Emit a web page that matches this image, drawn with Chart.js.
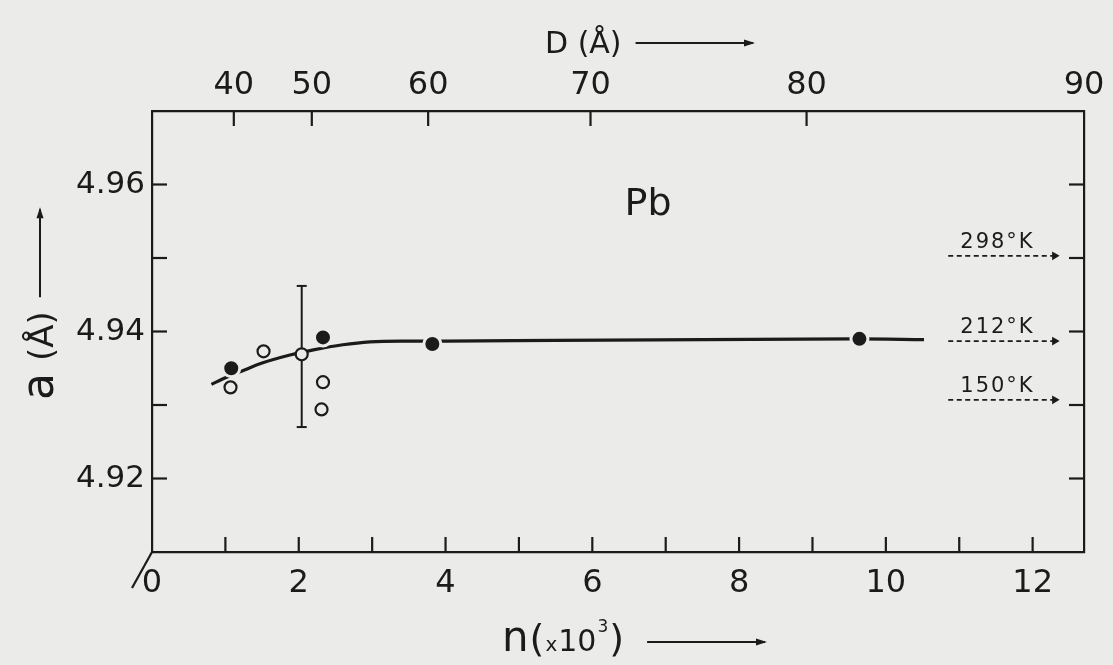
<!DOCTYPE html>
<html><head><meta charset="utf-8">
<script src="https://cdn.jsdelivr.net/npm/chart.js@4.4.1/dist/chart.umd.min.js"></script>
<style>html,body{margin:0;padding:0;background:#ebebe9;}canvas{display:block;}</style>
</head><body>
<canvas id="c" width="1113" height="665"></canvas>
<script>
// ---- data ----
const N_FILLED = [1.08, 2.33, 3.82, 9.64];          // n (x10^3), filled circles
const A_FILLED = [4.9350, 4.9392, 4.9383, 4.9390];  // a (Å)
const N_OPEN = [1.07, 1.52, 2.04, 2.33, 2.31];      // open circles
const A_OPEN = [4.9324, 4.9373, 4.9369, 4.9331, 4.9294];
const ERR_N = [2.04];
const ERR_LOW = [4.9270];
const ERR_HIGH = [4.9462];
const CURVE_N = [0.81, 1.0, 1.22, 1.5, 1.88, 2.2, 2.6, 2.97, 3.4, 4.0, 5.5, 7.5, 9.6, 10.52];
const CURVE_A = [4.9328, 4.9337, 4.9346, 4.9357, 4.9368, 4.9375, 4.9382, 4.9386, 4.9387, 4.9387, 4.9388, 4.9389, 4.9390, 4.9389];
const TEMP_LABELS = ['298°K', '212°K', '150°K'];
const TEMP_A = [4.9503, 4.9387, 4.9307];
const TEMP_N_START = 10.85, TEMP_N_END = 12.3;
const X_TICKS = [0,1,2,3,4,5,6,7,8,9,10,11,12];
const D_TICKS = [40, 50, 60, 70, 80, 90];           // top axis D (Å)
const D_TO_N = 12.7 / Math.pow(90, 3);              // n ∝ D^3
const Y_TICKS = [4.91, 4.92, 4.93, 4.94, 4.95, 4.96, 4.97];
const Y_LABELS = ['4.92', '4.94', '4.96'];
const ELEMENT = 'Pb';
const ELEMENT_AT = {n: 6.76, a: 4.9572};

const PAPER = '#ebebe9', INK = '#1b1b1b';
const FONT = "'DejaVu Sans', sans-serif";

function arrowLine(ctx, x1, y1, x2, y2, lw) {
  ctx.save();
  ctx.strokeStyle = INK; ctx.fillStyle = INK; ctx.lineWidth = lw || 2;
  ctx.beginPath(); ctx.moveTo(x1, y1); ctx.lineTo(x2, y2); ctx.stroke();
  const ang = Math.atan2(y2 - y1, x2 - x1);
  ctx.translate(x2, y2); ctx.rotate(ang);
  ctx.beginPath(); ctx.moveTo(2, 0); ctx.lineTo(-9, -3.5); ctx.lineTo(-9, 3.5); ctx.closePath(); ctx.fill();
  ctx.restore();
}

const decor = {
  id: 'decor',
  beforeDraw(chart) {
    const ctx = chart.ctx;
    ctx.save(); ctx.fillStyle = PAPER; ctx.fillRect(0, 0, chart.width, chart.height); ctx.restore();
  },
  afterDatasetsDraw(chart) {
    const ctx = chart.ctx, a = chart.chartArea, S = chart.scales;
    ctx.save();
    ctx.strokeStyle = INK; ctx.lineWidth = 2.2;
    const TL = 15;
    const near = (p, q) => Math.abs(p - q) < 2;
    // inward ticks
    S.x.ticks.forEach(t => { const p = S.x.getPixelForValue(t.value); if (near(p, a.left) || near(p, a.right)) return;
      ctx.beginPath(); ctx.moveTo(p, a.bottom); ctx.lineTo(p, a.bottom - TL); ctx.stroke(); });
    S.xTop.ticks.forEach(t => { const p = S.xTop.getPixelForValue(t.value); if (near(p, a.left) || near(p, a.right)) return;
      ctx.beginPath(); ctx.moveTo(p, a.top); ctx.lineTo(p, a.top + TL); ctx.stroke(); });
    S.y.ticks.forEach(t => { const p = S.y.getPixelForValue(t.value); if (near(p, a.top) || near(p, a.bottom)) return;
      ctx.beginPath(); ctx.moveTo(a.left, p); ctx.lineTo(a.left + TL, p); ctx.stroke(); });
    S.yRight.ticks.forEach(t => { const p = S.yRight.getPixelForValue(t.value); if (near(p, a.top) || near(p, a.bottom)) return;
      ctx.beginPath(); ctx.moveTo(a.right, p); ctx.lineTo(a.right - TL, p); ctx.stroke(); });
    // corner slash
    ctx.beginPath(); ctx.moveTo(a.left, a.bottom); ctx.lineTo(a.left - 20, a.bottom + 36); ctx.stroke();

    ctx.fillStyle = INK;
    // element label
    ctx.font = `38px ${FONT}`; ctx.textAlign = 'center'; ctx.textBaseline = 'middle';
    ctx.fillText(ELEMENT, S.x.getPixelForValue(ELEMENT_AT.n), S.y.getPixelForValue(ELEMENT_AT.a));
    // temperature labels
    ctx.font = `21px ${FONT}`; ctx.textBaseline = 'alphabetic';
    ctx.letterSpacing = '2px';
    TEMP_LABELS.forEach((lab, i) => {
      const xm = (S.x.getPixelForValue(TEMP_N_START) + S.x.getPixelForValue(TEMP_N_END)) / 2 - 4;
      ctx.fillText(lab, xm, S.y.getPixelForValue(TEMP_A[i]) - 8);
    });
    ctx.letterSpacing = '0px';

    // bottom title  n (x10³) →
    ctx.textAlign = 'left';
    let x = 502; const base = 651;
    const parts = [['n', 42, 0], ['(', 38, 0], ['x', 20, 0], ['10', 30, 0], ['3', 17, -19], [')', 38, 0]];
    parts.forEach(([t, size, dy]) => { ctx.font = `${size}px ${FONT}`; ctx.fillText(t, x, base + dy); x += ctx.measureText(t).width + 1; });
    arrowLine(ctx, x + 22, 642, 765, 642, 2);

    // top title  D (Å) →
    ctx.font = `30px ${FONT}`; ctx.textAlign = 'left';
    ctx.fillText('D (Å)', 545, 53);
    const w = ctx.measureText('D (Å)').width;
    arrowLine(ctx, 545 + w + 14, 43, 753, 43, 2);

    // left title  a (Å) →  (rotated)
    ctx.save();
    ctx.translate(53, 400); ctx.rotate(-Math.PI / 2);
    ctx.font = `44px ${FONT}`; ctx.fillText('a', 0, 0);
    let lx = ctx.measureText('a').width + 12;
    ctx.font = `34px ${FONT}`; ctx.fillText('(Å)', lx, 0);
    lx += ctx.measureText('(Å)').width + 14;
    arrowLine(ctx, lx, -13, lx + 88, -13, 2);
    ctx.restore();
    ctx.restore();
  }
};

const tickFont = (s) => ({family: FONT, size: s});
const noGrid = {display: false, drawTicks: false};
const border = {display: true, color: INK, width: 2.2};

new Chart(document.getElementById('c'), {
  data: {
    datasets: [
      { type: 'scatter', label: 'filled', data: N_FILLED.map((n, i) => ({x: n, y: A_FILLED[i]})),
        pointRadius: 8.5, pointBackgroundColor: INK, pointBorderColor: PAPER, pointBorderWidth: 3 },
      { type: 'scatter', label: 'open', data: N_OPEN.map((n, i) => ({x: n, y: A_OPEN[i]})),
        pointRadius: 6, pointBackgroundColor: PAPER, pointBorderColor: INK, pointBorderWidth: 2.2 },
      { type: 'line', label: 'error', data: [{x: ERR_N[0], y: ERR_LOW[0]}, {x: ERR_N[0], y: ERR_HIGH[0]}],
        borderColor: INK, borderWidth: 2, pointStyle: 'line', pointRadius: 5, pointBorderWidth: 2,
        pointBorderColor: INK, fill: false },
      { type: 'line', label: 'curve', data: CURVE_N.map((n, i) => ({x: n, y: CURVE_A[i]})),
        borderColor: INK, borderWidth: 3.2, pointRadius: 0, cubicInterpolationMode: 'monotone', fill: false },
      ...TEMP_A.map((v, i) => ({ type: 'line', label: TEMP_LABELS[i],
        data: [{x: TEMP_N_START, y: v}, {x: TEMP_N_END, y: v}],
        borderColor: INK, borderWidth: 1.8, borderDash: [5, 3.5], fill: false,
        pointRadius: [0, 5], pointStyle: 'triangle', pointRotation: 90,
        pointBackgroundColor: INK, pointBorderColor: INK, pointBorderWidth: 0 }))
    ]
  },
  options: {
    responsive: false, animation: false, events: [],
    layout: {padding: 0},
    plugins: {legend: {display: false}, tooltip: {enabled: false}},
    scales: {
      x: { type: 'linear', position: 'bottom', min: 0, max: 12.7,
        afterBuildTicks: s => { s.ticks = X_TICKS.map(v => ({value: v})); },
        afterFit: s => { s.height = 113; },
        grid: noGrid, border,
        ticks: { autoSkip: false, maxRotation: 0, padding: 12, color: INK, font: tickFont(32),
          callback: v => (v % 2 === 0 ? String(v) : '') } },
      xTop: { type: 'linear', position: 'top', min: 0, max: 12.7,
        afterBuildTicks: s => { s.ticks = D_TICKS.map(d => ({value: D_TO_N * Math.pow(d, 3)})); },
        afterFit: s => { s.height = 111; },
        grid: noGrid, border,
        ticks: { autoSkip: false, maxRotation: 0, padding: 6, color: INK, font: tickFont(32),
          callback: (v, i) => String(D_TICKS[i]) } },
      y: { type: 'linear', position: 'left', min: 4.91, max: 4.97,
        afterBuildTicks: s => { s.ticks = Y_TICKS.map(v => ({value: v})); },
        afterFit: s => { s.width = 152; },
        grid: noGrid, border,
        ticks: { autoSkip: false, padding: 7, color: INK, font: tickFont(31),
          callback: v => { const s = v.toFixed(2); return Y_LABELS.includes(s) ? s : ''; } } },
      yRight: { type: 'linear', position: 'right', min: 4.91, max: 4.97,
        afterBuildTicks: s => { s.ticks = Y_TICKS.map(v => ({value: v})); },
        afterFit: s => { s.width = 29; },
        grid: noGrid, border, ticks: { display: false } }
    }
  },
  plugins: [decor]
});
</script>
</body></html>
